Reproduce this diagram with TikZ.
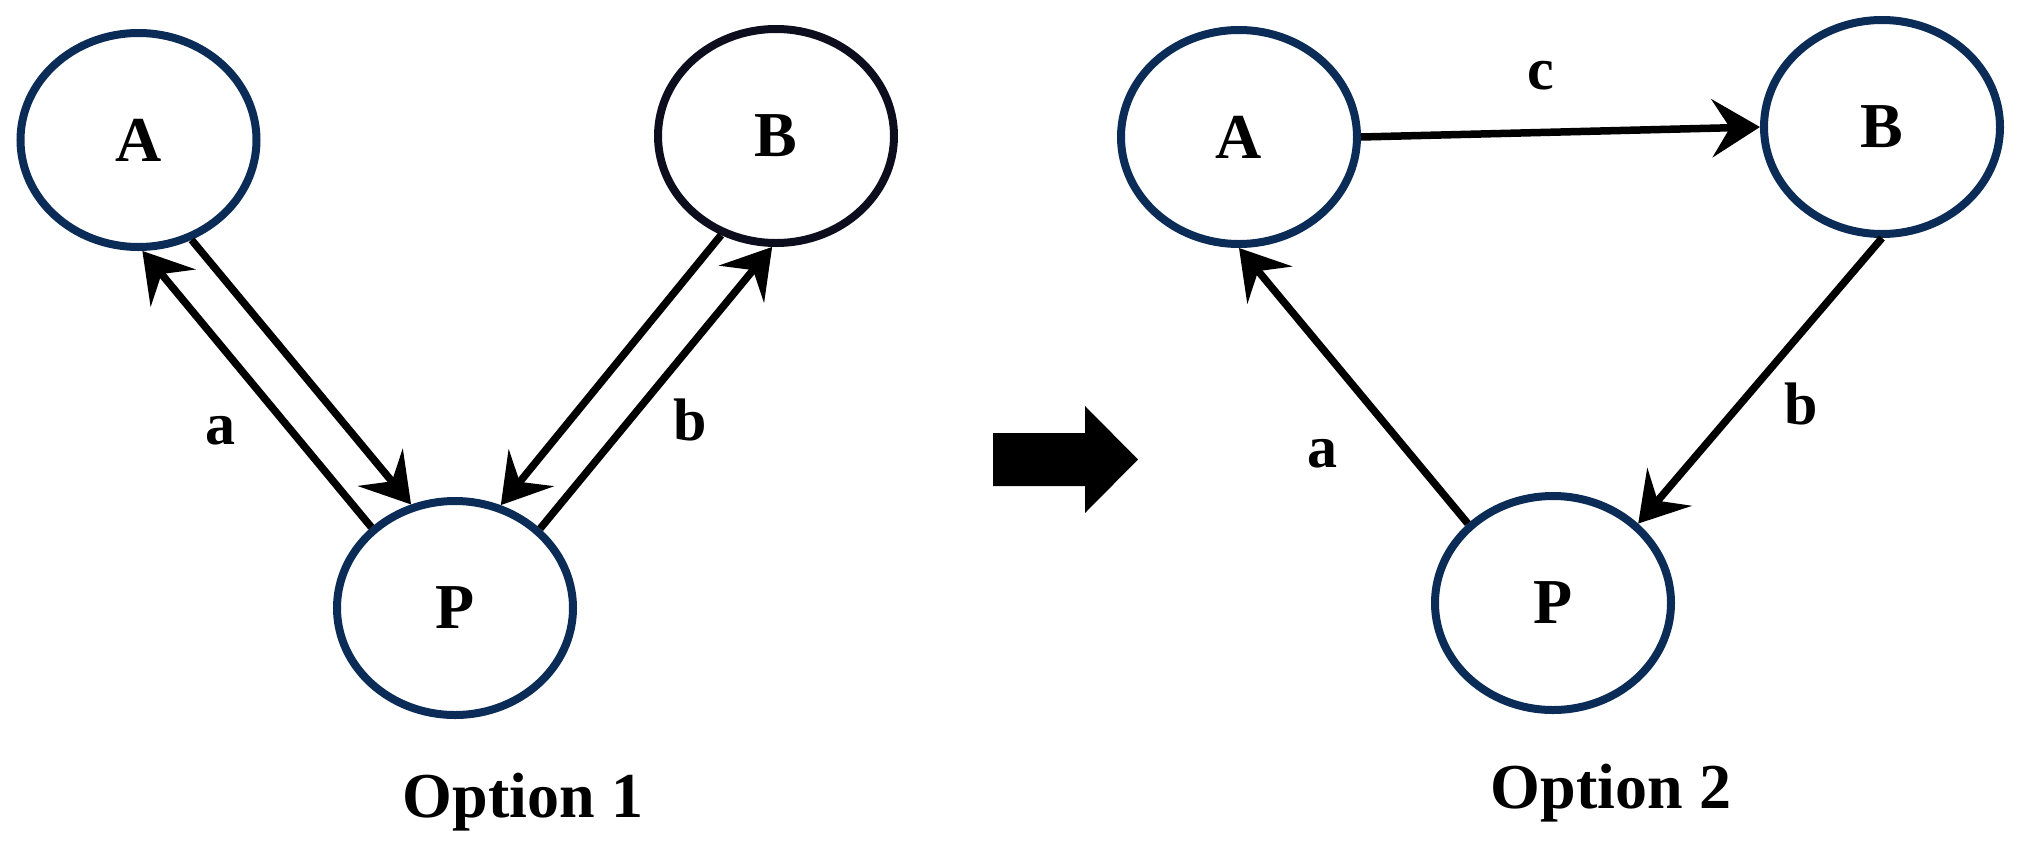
\documentclass[tikz,border=0pt]{standalone}
\usepackage{fontspec}
\setmainfont{Liberation Serif}
\usetikzlibrary{shapes.geometric,arrows.meta}
\definecolor{navy}{RGB}{12,44,88}
\definecolor{inkb}{RGB}{12,14,30}
\begin{document}
\begin{tikzpicture}[x=1pt,y=-1pt,
  state/.style={ellipse,draw=navy,line width=8pt,minimum width=236pt,minimum height=214pt,inner sep=0pt,font=\fontsize{64}{76}\selectfont\bfseries},
  conn/.style={draw=black,line width=7.5pt,-{Stealth[length=48pt,width=58pt,inset=18pt]}},
  lab/.style={inner sep=0pt,font=\fontsize{60}{72}\selectfont\bfseries},
  captiontext/.style={inner sep=0pt,anchor=base,font=\fontsize{64}{76}\selectfont\bfseries}]
\useasboundingbox (0,0) rectangle (2021,846);
% Option 1
\node[state] (A1) at (138.5,140) {A};
\node[state,draw=inkb] (B1) at (776,136) {B};
\node[state] (P1) at (455,608) {P};
\draw[conn] (P1.136) -- (A1.-88);
\draw[conn] (A1.-62) -- (P1.113);
\draw[conn] (B1.241) -- (P1.66);
\draw[conn] (P1.43) -- (B1.-92);
\node[lab] (la1) at (220,431) {a};
\node[lab] (lb1) at (690,420) {b};
\node[captiontext] (o1) at (523,817) {Option 1};
% transition arrow
\fill (993,433) -- (1085,433) -- (1085,406) -- (1138,459.5) -- (1085,513) -- (1085,486) -- (993,486) -- cycle;
% Option 2
\node[state] (A2) at (1239,137) {A};
\node[state] (B2) at (1882,127) {B};
\node[state] (P2) at (1553,603) {P};
\draw[conn] (A2.east) -- (B2.west);
\draw[conn] (B2.south) -- (P2.43);
\draw[conn] (P2.137) -- (A2.south);
\node[lab] (lc2) at (1541,76) {c};
\node[lab] (la2) at (1322,454) {a};
\node[lab] (lb2) at (1801,404) {b};
\node[captiontext] (o2) at (1611,808) {Option 2};
\end{tikzpicture}
\end{document}
